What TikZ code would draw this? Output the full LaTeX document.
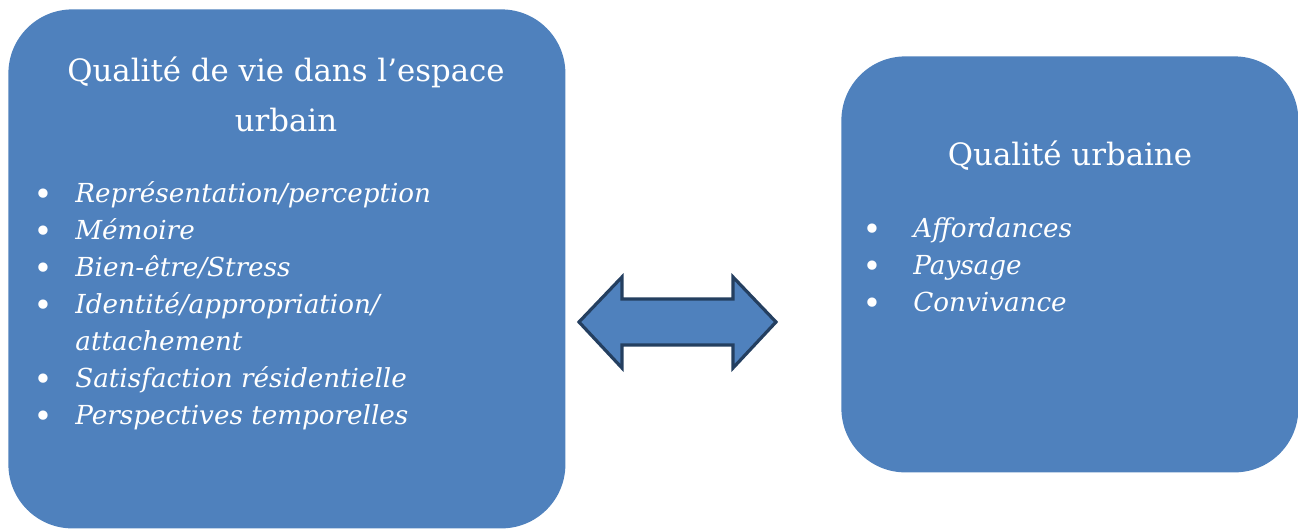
\documentclass[tikz,border=0pt]{standalone}
\usepackage{fontspec}
\setmainfont{DejaVu Serif}
\usetikzlibrary{positioning}

\definecolor{boxblue}{HTML}{4F81BD}
\definecolor{arrowline}{HTML}{243F60}

\tikzset{
    bloc/.style={fill=boxblue, rounded corners=32pt, anchor=north west, inner sep=0pt},
    titre/.style={text=white, anchor=base, inner sep=0pt, font=\fontsize{15.4}{18}\selectfont},
    item/.style={text=white, anchor=base west, inner sep=0pt, font=\fontsize{13.1}{16}\selectfont\itshape},
    puce/.style={text=white, anchor=base, inner sep=0pt, yshift=-1.5pt, font=\fontsize{16}{19}\selectfont},
    fleche/.style={fill=boxblue, draw=arrowline, line width=1.6pt, line join=miter},
}

\begin{document}
\begin{tikzpicture}[x=0.5pt, y=-0.5pt]
    \useasboundingbox (0,0) rectangle (1298,529);

    % the two boxes
    \node(vie) [bloc, minimum width=278.5pt, minimum height=259.5pt] at (8,9) {};
    \node(urb) [bloc, minimum width=228.5pt, minimum height=208pt] at (841,56) {};

    % left box
    \node(vt1) [titre] at (286,82) {Qualité de vie dans l’espace};
    \node(vt2) [titre] at (286,132) {urbain};

    \node(vp1) [puce] at (43,203) {•};
    \node(vi1) [item] at (75,203) {Représentation/perception};
    \node(vp2) [puce] at (43,240) {•};
    \node(vi2) [item] at (75,240) {Mémoire};
    \node(vp3) [puce] at (43,277) {•};
    \node(vi3) [item] at (75,277) {Bien-être/Stress};
    \node(vp4) [puce] at (43,314) {•};
    \node(vi4) [item] at (75,314) {Identité/appropriation/};
    \node(vi4b) [item] at (75,351) {attachement};
    \node(vp5) [puce] at (43,388) {•};
    \node(vi5) [item] at (75,388) {Satisfaction résidentielle};
    \node(vp6) [puce] at (43,425) {•};
    \node(vi6) [item] at (75,425) {Perspectives temporelles};

    % right box
    \node(ut1) [titre] at (1070,166) {Qualité urbaine};

    \node(up1) [puce] at (872,238) {•};
    \node(ui1) [item] at (913,238) {Affordances};
    \node(up2) [puce] at (872,275) {•};
    \node(ui2) [item] at (913,275) {Paysage};
    \node(up3) [puce] at (872,312) {•};
    \node(ui3) [item] at (913,312) {Convivance};

    % double arrow between the boxes
    \draw[fleche] (579,322) -- (622,277) -- (622,299) -- (733,299) -- (733,277)
        -- (776,322) -- (733,368) -- (733,345) -- (622,345) -- (622,368) -- cycle;
\end{tikzpicture}
\end{document}
